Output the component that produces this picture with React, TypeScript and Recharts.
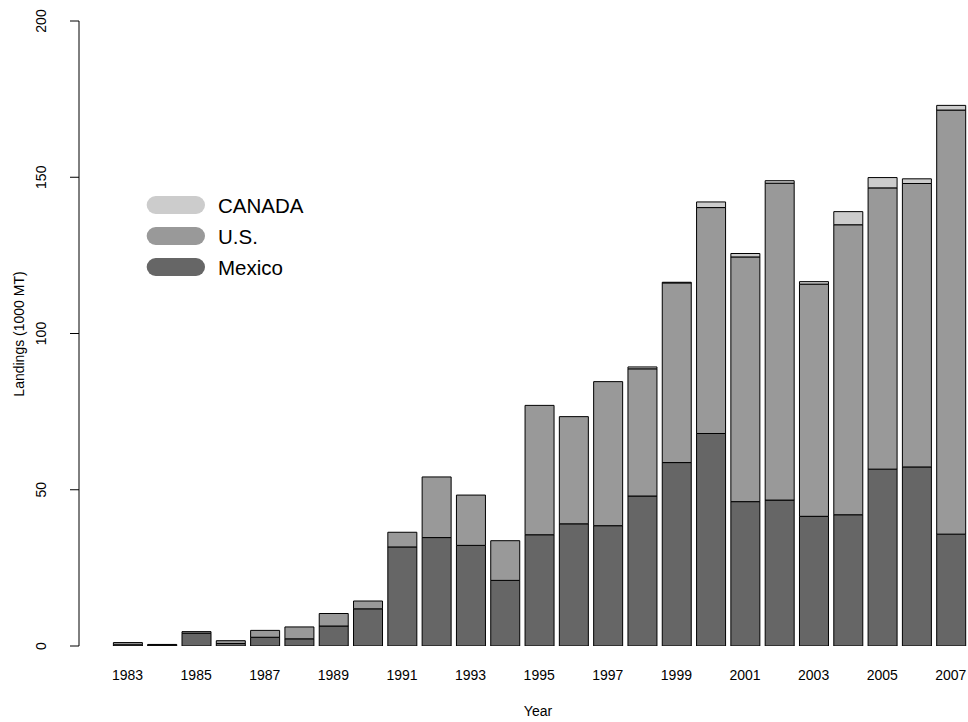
import React from 'react';
import { BarChart, Bar, XAxis, YAxis } from 'recharts';

// Annual landings (1000 MT) by country, 1983–2007
const years = [
  1983, 1984, 1985, 1986, 1987, 1988, 1989, 1990, 1991, 1992, 1993, 1994, 1995,
  1996, 1997, 1998, 1999, 2000, 2001, 2002, 2003, 2004, 2005, 2006, 2007,
];
const mexico = [
  0.4, 0.3, 4.1, 0.8, 2.8, 2.3, 6.4, 11.9, 31.7, 34.7, 32.2, 21.0, 35.6,
  39.1, 38.5, 48.0, 58.7, 68.0, 46.2, 46.7, 41.5, 42.0, 56.6, 57.3, 35.8,
];
const usa = [
  0.7, 0.2, 0.5, 0.9, 2.2, 3.8, 4.0, 2.5, 4.7, 19.4, 16.1, 12.7, 41.4,
  34.3, 46.1, 40.7, 57.5, 72.3, 78.3, 101.4, 74.3, 92.8, 90.0, 90.7, 135.7,
];
const canada = [
  0, 0, 0, 0, 0, 0, 0, 0, 0, 0, 0, 0, 0,
  0, 0, 0.6, 0.2, 1.8, 1.1, 0.8, 0.8, 4.2, 3.3, 1.5, 1.5,
];
const yTicks = [0, 50, 100, 150, 200];

const legendLabels = ['CANADA', 'U.S.', 'Mexico'];
const legendColors = ['#cccccc', '#999999', '#666666'];

const FONT = '"Liberation Sans", Arial, Helvetica, sans-serif';

const data = years.map((y, i) => ({
  year: String(y),
  mexico: mexico[i],
  usa: usa[i],
  canada: canada[i],
}));

const YTick = (props: any) => {
  const { y, payload } = props;
  return (
    <text
      x={46}
      y={y}
      transform={`rotate(-90, 46, ${y})`}
      textAnchor="middle"
      fontSize={14}
      fontFamily={FONT}
      fill="#000"
    >
      {payload.value}
    </text>
  );
};

const XTick = (props: any) => {
  const { x, payload } = props;
  return (
    <text x={x} y={680} textAnchor="middle" fontSize={14} fontFamily={FONT} fill="#000">
      {payload.value}
    </text>
  );
};

const YTitle = () => (
  <text
    x={24}
    y={334}
    transform="rotate(-90, 24, 334)"
    textAnchor="middle"
    fontSize={14}
    fontFamily={FONT}
    fill="#000"
  >
    Landings (1000 MT)
  </text>
);

const XTitle = () => (
  <text x={538} y={716} textAnchor="middle" fontSize={14} fontFamily={FONT} fill="#000">
    Year
  </text>
);

const LegendBox = () => (
  <svg
    width={220}
    height={100}
    style={{ position: 'absolute', left: 140, top: 190, overflow: 'visible' }}
  >
    {legendLabels.map((label, i) => {
      const cy = 15 + i * 31;
      return (
        <g key={label}>
          <rect x={6.7} y={cy - 9} width={58.3} height={18} rx={9} ry={9} fill={legendColors[i]} />
          <text x={78} y={cy + 8} fontSize={20.5} fontFamily={FONT} fill="#000">
            {label}
          </text>
        </g>
      );
    })}
  </svg>
);

export default function App() {
  return (
    <div style={{ position: 'absolute', left: 0, top: 0, width: 968, height: 722, background: '#fff' }}>
      <BarChart
        width={968}
        height={722}
        data={data}
        margin={{ top: 21, right: 0, bottom: 46, left: 0 }}
        barSize={29}
      >
        <XAxis
          dataKey="year"
          height={30}
          axisLine={false}
          tickLine={false}
          interval={1}
          padding={{ left: 31.4, right: 0 }}
          tick={<XTick />}
          label={<XTitle />}
        />
        <YAxis
          width={79}
          domain={[0, 200]}
          ticks={yTicks}
          interval={0}
          allowDataOverflow
          axisLine={{ stroke: '#000', strokeWidth: 1 }}
          tickLine={{ stroke: '#000', strokeWidth: 1 }}
          tickSize={9}
          tick={<YTick />}
          label={<YTitle />}
        />
        <Bar dataKey="mexico" stackId="s" fill="#666666" stroke="#000" strokeWidth={1} isAnimationActive={false} />
        <Bar dataKey="usa" stackId="s" fill="#999999" stroke="#000" strokeWidth={1} isAnimationActive={false} />
        <Bar dataKey="canada" stackId="s" fill="#cccccc" stroke="#000" strokeWidth={1} isAnimationActive={false} />
      </BarChart>
      <LegendBox />
    </div>
  );
}
